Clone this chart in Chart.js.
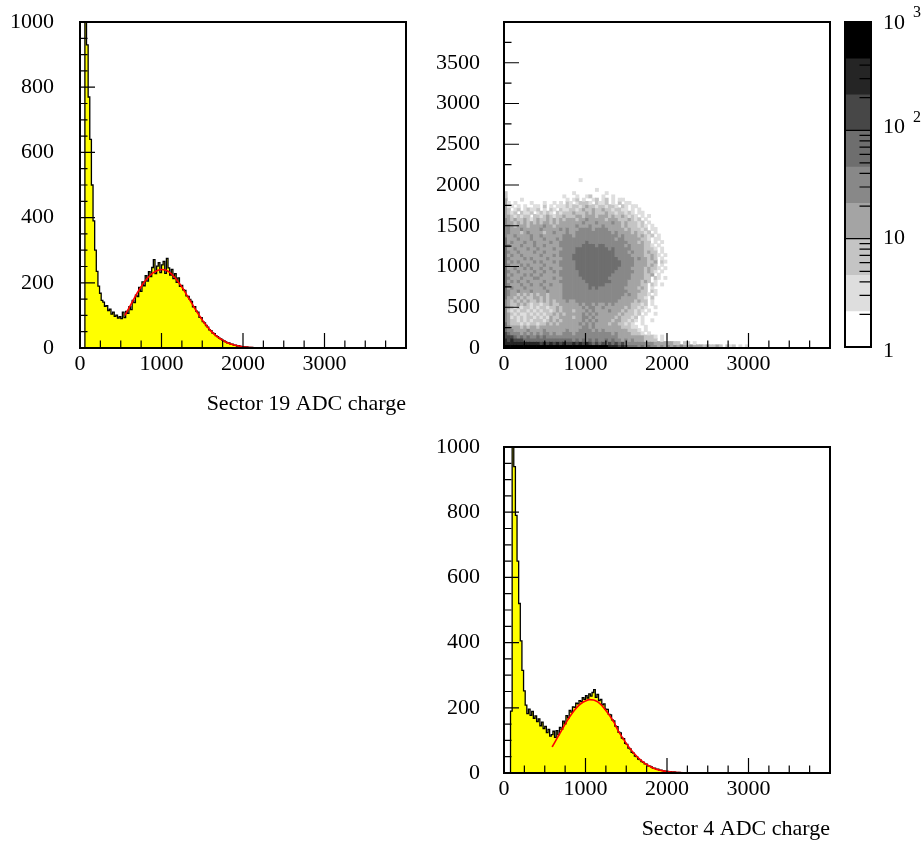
<!DOCTYPE html>
<html><head><meta charset="utf-8">
<script src="https://cdn.jsdelivr.net/npm/chart.js@4.4.1/dist/chart.umd.min.js"></script>
<style>
html,body{margin:0;padding:0;background:#fff;width:923px;height:844px;overflow:hidden;position:relative}
canvas{position:absolute}
</style>
</head><body>
<canvas id="c1" width="420" height="420" style="left:0;top:0"></canvas>
<canvas id="c2" width="430" height="420" style="left:420px;top:0"></canvas>
<canvas id="c4" width="83" height="420" style="left:840px;top:0"></canvas>
<canvas id="c3" width="430" height="419" style="left:420px;top:425px"></canvas>
<script>
// ---------------- DATA ----------------
const binWidth = 20; // ADC units per histogram bin, bins start at 0
const sector19Counts = [
0,0,0,2600,930,770,640,500,390,300,
235,190,168,146,141,128,130,115,119,104,
110,97,101,92,96,90,110,93,112,106,
127,118,146,139,162,158,186,174,203,191,
222,205,234,219,247,271,228,251,262,231,
255,266,229,275,246,224,241,213,228,201,
215,189,192,178,177,160,158,149,143,126,
127,113,110,94,93,81,77,69,64,56,
53,46,44,38,35,30,28,24,22,19,
16,16,12,12,9,9,6,7,5,4,
4,3,3,2,2,2,1,1,1,0,
1,0,1,0,0,1,0,0,0,0,
0,1,0,0,0,0,0,0,0,0,
1,0,0,0,0,0,0,0,0,0,
0,0,0,0,1,0,0,0,0,0,
0,0,0,0,0,0,0,0,0,0,
1,0,0,0,0,0,0,0,0,0,
0,0,0,0,0,1,0,0,0,0,
0,0,0,0,0,0,0,0,0,0,
0,0,0,0,0,0,0,0,0,0];
const sector4Counts = [
0,0,0,0,190,1500,940,790,650,520,
405,315,252,208,182,196,177,189,168,175,
158,166,145,156,136,143,124,134,113,118,
128,109,130,118,140,134,159,151,176,169,
192,187,203,201,214,212,222,219,231,226,
237,230,243,236,247,256,232,241,222,226,
209,212,196,195,180,178,163,160,144,142,
125,123,107,105,91,88,76,74,63,61,
52,50,43,41,35,33,28,27,22,21,
19,15,15,12,12,9,9,7,6,5,
5,3,4,2,3,2,1,2,1,1,
0,1,1,0,1,0,0,0,1,0,
0,0,0,0,0,0,1,0,0,0,
0,0,0,0,0,0,0,1,0,0,
0,0,0,0,0,0,0,0,0,0,
0,1,0,0,0,0,0,0,0,0,
0,0,0,0,0,0,0,0,1,0,
0,0,0,0,0,0,0,0,0,0,
0,0,1,0,0,0,0,0,0,0,
0,0,0,0,0,0,0,0,0,0];
const fit19X = [550,600,650,700,750,800,850,900,950,1000,1050,1100,1150,1200,1250,1300,1350,1400,1450,1500,1550,1600,1650,1700,1750,1800,1850,1900,1950,2000,2100,2200,2300,2400,2600,4000];
const fit19Y = [100,122,145,168,188,206,220,231,238,241,239,232,220,205,187,167,146,125,105,86,69,54,42,32,24,17,12,8.5,6,4,1.7,0.7,0.3,0.1,0,0];
const fit4X = [590,600,650,700,750,800,850,900,950,1000,1050,1100,1150,1200,1250,1300,1350,1400,1450,1500,1550,1600,1650,1700,1750,1800,1850,1900,1950,2000,2100,2200,2300,2400,2600,4000];
const fit4Y = [80,84,106,128,150,170,188,203,214,221,225,224,218,207,192,175,155,130,110,91,74,59,46,35,26,19,13,9.5,6.5,4.5,2,0.8,0.3,0.1,0,0];

// 2D histogram: 40x40 ADC cells, rows listed top (y 2040-2080) to bottom (y 0-40),
// each character = colour band index of the cell ('.' = empty)
const cellSize = 40;
const map2dRows = [
".......... .......... ...1...... .......... ..........",
".......... .......... .......... .......... ..........",
".......... .......... .......... .......... ..........",
".......... .......... ........1. .......... ..........",
"2......... .......... .1........ .1........ ..........",
"2......... ........1. ..1..12... 1..1...... ..........",
"3....1.... .........1 .12.1..12. 12.1.11... ..........",
"31.1....1. ..1..1.1.2 1.12221.21 12.1.2.11. ..........",
"311.1.1..1 1.2.1.1112 1221232212 21221.21.1 1.........",
"32.12.1211 2.1.21.211 2212322322 32212211.1 .1........",
"3212.2112. 12121.2122 2322232322 2322122121 .11.......",
"33212122.2 2123212232 2233233323 3323223212 1.1.1.....",
"4323223212 3223232323 3323343333 3233322232 12.1......",
"4332323232 3233232333 3333433343 3334332322 212.1.....",
"4432333233 3343323333 3343334333 4333332322 2121.1....",
"4433343333 3433333434 3334444344 4433333232 2212.11...",
"4433323433 3323343334 3344444444 4443433332 32212.1...",
"4334333343 3433333344 4344444444 4444434333 323212.1..",
"5333433343 3343334344 4444444444 4444344333 33221.11..",
"5343334334 3333433444 4444454444 4444444433 32322.1.1.",
"5433343334 3343333444 4444555545 5444444343 333221.1..",
"5334333433 4333343344 4455555555 5545444443 3332221.1.",
"5433433334 3343333444 4455555555 5555444434 3332322.1.",
"5343343333 3433343444 4555555555 5555444443 33322321.1",
"5433334343 3334333344 4555555555 5555544444 3433232.1.",
"5343433334 3433343444 4455555555 5555554444 3333223.21",
"5433343433 3343333444 4455555555 5555554444 3333232.1.",
"5334334343 3433433344 4455555555 5555544443 33323221.1",
"5433433334 3343343444 4445555555 5555444444 3332321.1.",
"5343334343 3433333444 4445555555 5554444443 333223.1..",
"5433343334 4333343344 4444555555 5544444443 33322.21.1",
"5343433433 3343333444 4444455555 5554444433 33232.1...",
"5433343343 3433433344 4444445555 5444444433 3322.21.1.",
"5343334333 3343333344 4444445454 4444444333 3232.1....",
"5433433343 3334333344 4444444444 4444444433 3322.21...",
"5433232323 2332333344 4444444444 4444444343 32221.1...",
"5332323223 3232333344 4444444444 4444443333 3221.2....",
"4323232322 3232323334 3344444444 4444433333 2322.1....",
"4322323212 2122322333 3334344343 3434333332 2212.1....",
"4321212212 1221223233 3333434433 4333333232 2121..1...",
"4212122121 2122123233 3233343433 3343332322 121.1.....",
"4321211212 1212232323 3333434343 3333323222 12.1..1...",
"4312121221 2121322333 3233443433 3333232221 2.1.......",
"4322121212 2212323233 3333434343 3332332212 1.1..1....",
"5322212122 1223232333 3334343433 3323322121 ..1.......",
"5433323233 2333333333 3333443433 3333332221 1..1......",
"5443333433 3343333334 3334444343 4333333322 21.1......",
"6544434343 4344343344 4344444444 4443433332 221.1.....",
"6665454544 5454444444 4444444444 4444433333 3332221.1.",
"7676665555 5555555555 5454545454 4545443434 3332222.1.",
"7777777777 7676767676 6767676565 6565656444 4444443333 3322.22.1.",
"8888888888 8888888888 8888888888 8877767655 5454544343 4343433433 3232232.21 2.1.1....."
];
// colour-scale contour levels (log spaced, 3 per decade) and their fills
const zLevels = [1, 2.154, 4.642, 10, 21.54, 46.42, 100, 215.4, 464.2, 1000];
const zColors = ['#ffffff','#dedede','#c4c4c4','#a4a4a4','#888888','#6e6e6e','#474747','#252525','#000000'];

// tick labels
const xTickValues = [0, 1000, 2000, 3000];
const xTickLabels = ['0', '1000', '2000', '3000'];
const yHistTickValues = [0, 200, 400, 600, 800, 1000];
const yHistTickLabels = ['0', '200', '400', '600', '800', '1000'];
const y2dTickValues = [0, 500, 1000, 1500, 2000, 2500, 3000, 3500];
const y2dTickLabels = ['0', '500', '1000', '1500', '2000', '2500', '3000', '3500'];
const zTickLabels = [{v: 1, base: '1', exp: ''}, {v: 10, base: '10', exp: ''}, {v: 100, base: '10', exp: '2'}, {v: 1000, base: '10', exp: '3'}];

// ---------------- STYLE / HELPERS ----------------
const FONT = {family: '"Liberation Serif", "Times New Roman", serif', size: 22};
const FONT_CSS = '22px "Liberation Serif", "Times New Roman", serif';
const SUP_CSS = '16px "Liberation Serif", "Times New Roman", serif';
const tickRange = (from, to, step) => { const o = []; for (let v = from; v <= to + 1e-9; v += step) o.push(v); return o; };
const noPad = s => { s.paddingTop = 0; s.paddingBottom = 0; s.paddingLeft = 0; s.paddingRight = 0; };

function framePlugin(cfg) {
  return {
    id: 'rootFrame',
    afterDatasetsDraw(chart) {
      const {ctx, chartArea: a} = chart;
      ctx.save();
      ctx.strokeStyle = '#000';
      ctx.lineWidth = 1.2;
      ctx.beginPath();
      const sx = chart.scales.x, sy = chart.scales.y;
      tickRange(0, cfg.xMax, cfg.xMinor).forEach(v => {
        const px = sx.getPixelForValue(v);
        if (px <= a.left + 1.5 || px >= a.right - 1.5) return;
        const len = (v % cfg.xMajor === 0) ? 15 : 7.5;
        ctx.moveTo(px, a.bottom); ctx.lineTo(px, a.bottom - len);
      });
      tickRange(0, cfg.yMax, cfg.yMinor).forEach(v => {
        const py = sy.getPixelForValue(v);
        if (py <= a.top + 1.5 || py >= a.bottom - 1.5) return;
        const len = (v % cfg.yMajor === 0) ? 15 : 7.5;
        ctx.moveTo(a.left, py); ctx.lineTo(a.left + len, py);
      });
      ctx.stroke();
      ctx.lineWidth = 2;
      ctx.strokeRect(a.left, a.top, a.right - a.left, a.bottom - a.top);
      ctx.restore();
    }
  };
}

function axisX(title, height, titlePadBottom) {
  const ax = {
    type: 'linear', min: 0, max: 4000, offset: false,
    grid: {display: false, drawTicks: false, offset: false}, border: {display: false},
    afterBuildTicks: s => { s.ticks = xTickValues.map(v => ({value: v})); },
    afterFit: s => { s.height = height; noPad(s); },
    ticks: {callback: (v, i) => xTickLabels[i], font: FONT, color: '#000', padding: 3, maxRotation: 0, autoSkip: false}
  };
  if (title) ax.title = {display: true, text: title, align: 'end', font: FONT, color: '#000', padding: {top: 0, bottom: titlePadBottom}};
  return ax;
}
function axisY(max, values, labels, width, pad) {
  return {
    type: 'linear', min: 0, max: max,
    grid: {display: false, drawTicks: false}, border: {display: false},
    afterBuildTicks: s => { s.ticks = values.map(v => ({value: v})); },
    afterFit: s => { s.width = width; noPad(s); },
    ticks: {callback: (v, i) => labels[i], font: FONT, color: '#000', padding: pad, autoSkip: false}
  };
}

function histChart(id, counts, fitX, fitY, title, cfg) {
  const histData = counts.map((v, i) => ({x: i * binWidth, y: v}));
  histData.push({x: counts.length * binWidth, y: counts[counts.length - 1]});
  const fitData = fitX.map((x, i) => ({x: x, y: fitY[i]}));
  return new Chart(document.getElementById(id), {
    type: 'line',
    data: {datasets: [
      {data: fitData, borderColor: '#ff0000', borderWidth: 1.6, pointRadius: 0, fill: false, cubicInterpolationMode: 'monotone'},
      {data: histData, stepped: true, borderColor: '#000000', borderWidth: 1.3, backgroundColor: '#ffff00', fill: 'origin', pointRadius: 0}
    ]},
    options: {
      responsive: false, animation: false, devicePixelRatio: 1,
      layout: {padding: cfg.padding},
      events: [],
      plugins: {legend: {display: false}, tooltip: {enabled: false}},
      scales: {
        x: axisX(title, cfg.xHeight, cfg.titlePad),
        y: axisY(1000, yHistTickValues, yHistTickLabels, cfg.yWidth, cfg.yPad)
      }
    },
    plugins: [framePlugin({xMax: 4000, xMinor: 250, xMajor: 1000, yMax: 1000, yMinor: 50, yMajor: 200})]
  });
}

// ---------------- CHARTS ----------------
histChart('c1', sector19Counts, fit19X, fit19Y, 'Sector 19 ADC charge',
  {padding: {left: 0, top: 22, right: 14, bottom: 0}, xHeight: 72, yWidth: 80, yPad: 26, titlePad: 3});
histChart('c3', sector4Counts, fit4X, fit4Y, 'Sector 4 ADC charge',
  {padding: {left: 0, top: 22, right: 20, bottom: 0}, xHeight: 71, yWidth: 84, yPad: 24, titlePad: 1.5});

// 2D histogram as floating bars (vertical runs of equal colour band merged)
const grid2d = map2dRows.map(s => s.replace(/ /g, ''));
const nRows = grid2d.length;
const nCols = Math.max(...grid2d.map(s => s.length));
function levelAt(c, r) { const ch = grid2d[nRows - 1 - r][c]; return (ch >= '1' && ch <= '8') ? +ch : 0; }
const cells = [];
for (let c = 0; c < nCols; c++) {
  let r = 0;
  while (r < nRows) {
    const lvl = levelAt(c, r);
    if (!lvl) { r++; continue; }
    let r1 = r;
    while (r1 + 1 < nRows && levelAt(c, r1 + 1) === lvl) r1++;
    cells.push({x: (c + 0.5) * cellSize, y: [r * cellSize, (r1 + 1) * cellSize], lvl: lvl});
    r = r1 + 1;
  }
}
new Chart(document.getElementById('c2'), {
  type: 'bar',
  data: {datasets: [{
    data: cells, borderWidth: 0, barPercentage: 1, categoryPercentage: 1,
    backgroundColor: ctx => (ctx.raw ? zColors[ctx.raw.lvl] : '#000')
  }]},
  options: {
    responsive: false, animation: false, devicePixelRatio: 1, events: [],
    layout: {padding: {left: 0, top: 22, right: 20, bottom: 0}},
    plugins: {legend: {display: false}, tooltip: {enabled: false}},
    scales: {
      x: axisX(null, 72, 0),
      y: axisY(4000, y2dTickValues, y2dTickLabels, 84, 24)
    }
  },
  plugins: [framePlugin({xMax: 4000, xMinor: 250, xMajor: 1000, yMax: 4000, yMinor: 250, yMajor: 500})]
});

// colour scale
const bands = zColors.map((col, i) => ({x: 'z', y: [zLevels[i], zLevels[i + 1]], lvl: i}));
new Chart(document.getElementById('c4'), {
  type: 'bar',
  data: {labels: ['z'], datasets: [{
    data: bands, borderWidth: 0, barPercentage: 1, categoryPercentage: 1,
    backgroundColor: ctx => (ctx.raw ? zColors[ctx.raw.lvl] : '#000')
  }]},
  options: {
    responsive: false, animation: false, devicePixelRatio: 1, events: [],
    layout: {padding: {left: 5, top: 22, right: 52, bottom: 73}},
    plugins: {legend: {display: false}, tooltip: {enabled: false}},
    scales: {
      x: {type: 'category', display: false},
      y: {type: 'logarithmic', min: 1, max: 1000, display: false}
    }
  },
  plugins: [{
    id: 'zAxis',
    afterDatasetsDraw(chart) {
      const {ctx, chartArea: a} = chart;
      const sy = chart.scales.y;
      ctx.save();
      ctx.strokeStyle = '#000';
      ctx.lineWidth = 1.2;
      ctx.beginPath();
      [1, 10, 100].forEach(dec => {
        for (let k = 2; k <= 9; k++) {
          const py = sy.getPixelForValue(k * dec);
          ctx.moveTo(a.right, py); ctx.lineTo(a.right - 11.5, py);
        }
      });
      [10, 100].forEach(v => { const py = sy.getPixelForValue(v); ctx.moveTo(a.left, py); ctx.lineTo(a.right, py); });
      ctx.stroke();
      ctx.lineWidth = 2;
      ctx.strokeRect(a.left, a.top, a.right - a.left, a.bottom - a.top);
      ctx.fillStyle = '#000';
      ctx.textAlign = 'left';
      ctx.textBaseline = 'middle';
      const nudge = {1: 4, 10: 0, 100: -3, 1000: 1};
      zTickLabels.forEach(t => {
        const py = sy.getPixelForValue(t.v) + nudge[t.v];
        ctx.font = FONT_CSS;
        ctx.fillText(t.base, a.right + 12, py);
        if (t.exp) { ctx.font = SUP_CSS; ctx.fillText(t.exp, a.right + 42, py - 10); }
      });
      ctx.restore();
    }
  }]
});
</script>
</body></html>
